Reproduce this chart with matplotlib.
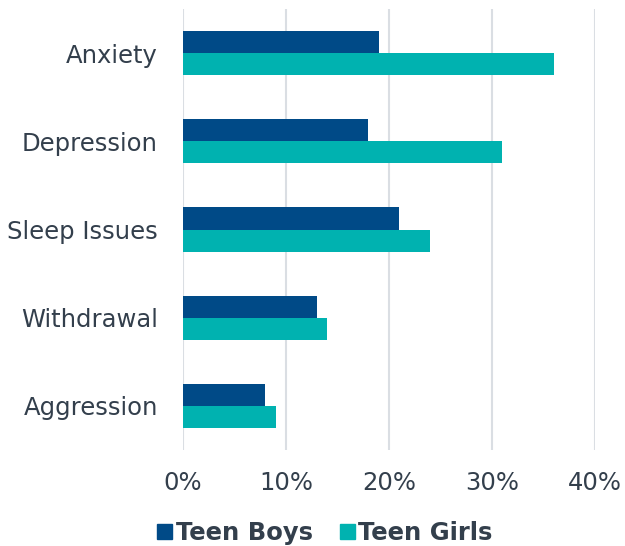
import numpy as np
import matplotlib
matplotlib.use("Agg")
from matplotlib import pyplot
from matplotlib.patches import Patch

# データ
categories = ["Anxiety", "Depression", "Sleep Issues", "Withdrawal", "Aggression"]
boys = [19, 18, 21, 13, 8]
girls = [36, 31, 24, 14, 9]
series_names = ["Teen Boys", "Teen Girls"]
xticks = [0, 10, 20, 30, 40]

c_boys = "#004a87"
c_girls = "#00b2b0"
c_text = "#333f4c"
c_grid = "#dadee3"

pyplot.rcParams["font.family"] = ["DejaVu Sans"]

fig = pyplot.figure(figsize=(6.25, 5.46), dpi=100)
ax = fig.add_axes([0.2928, 0.1758, 0.6592, 0.8077])

y = np.arange(len(categories))
h = 0.25
ax.barh(y - h / 2, boys, height=h, color=c_boys, zorder=3)
ax.barh(y + h / 2, girls, height=h, color=c_girls, zorder=3)

ax.set_xlim(0, 40)
ax.set_ylim(len(categories) - 0.5, -0.5)
ax.set_yticks(y)
ax.set_yticklabels(categories)
ax.set_xticks(xticks)
ax.set_xticklabels([str(t) + "%" for t in xticks])
ax.tick_params(axis="both", length=0, labelsize=17.5, colors=c_text)
ax.tick_params(axis="y", pad=18)
ax.tick_params(axis="x", pad=15)

ax.grid(axis="x", color=c_grid, linewidth=1.5, zorder=0)
for s in ax.spines.values():
    s.set_visible(False)

handles = [Patch(color=c_boys), Patch(color=c_girls)]
fig.legend(handles, series_names, loc="center", bbox_to_anchor=(325 / 625, 1 - 533 / 546),
           ncol=2, frameon=False, handlelength=0.62, handleheight=0.62, handletextpad=0.15,
           columnspacing=1.1, prop={"size": 17.5, "weight": "bold"}, labelcolor=c_text)

fig.savefig("out.png", dpi=100)
